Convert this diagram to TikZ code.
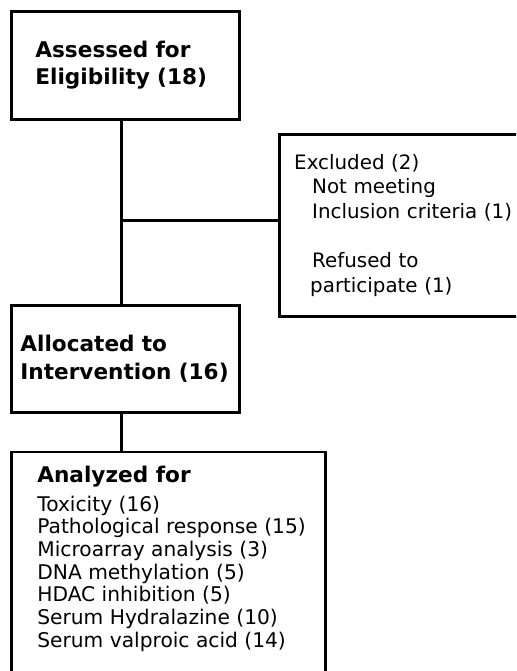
\documentclass[tikz,border=0pt]{standalone}
\usepackage{fontspec}
\setmainfont{DejaVu Sans}
\usetikzlibrary{positioning}

\begin{document}
\begin{tikzpicture}[align=left,cbox/.style={rectangle,draw=black,line width=1.6pt,inner ysep=0pt},
  ctitle/.style={font=\bfseries\fontsize{12.3}{15.5}\selectfont},
  clist/.style={font=\fontsize{11.3}{14}\selectfont},
  link/.style={line width=1.5pt}]
		\useasboundingbox (0,0) rectangle (10.32,-13.42);
		\clip (0,0) rectangle (10.32,-13.42);
		\node[cbox,ctitle,anchor=north west,minimum height=2.16cm,text width=3.6cm,inner xsep=0.48cm] (elig) at (0.2,-0.2){Assessed for\\Eligibility (18)};
		\node[cbox,ctitle,minimum height=2.14cm,text width=4.2cm,inner xsep=0.18cm] (alloc)[below=3.66cm of elig]{Allocated to\\Intervention (16)};
		\node[cbox,clist,minimum height=3.64cm,text width=5.1cm,inner xsep=0.3cm] (excl)[below right=0.24cm and 0.74cm of elig.south east]{Excluded (2)\\\hspace*{0.36cm}Not meeting\\\hspace*{0.36cm}Inclusion criteria (1)\\[14pt]\hspace*{0.36cm}Refused to\\\hspace*{0.32cm}participate (1)};
		\node[cbox,inner sep=0pt,minimum width=6.28cm,minimum height=6cm] (anz)[below right=0.74cm and 0cm of alloc.south west]{};
		\node[clist,anchor=north west,inner sep=0pt,font=\fontsize{11.5}{12.9}\selectfont] (antext) at ([xshift=0.54cm,yshift=-0.3cm]anz.north west){{\bfseries\fontsize{12.3}{12.9}\selectfont Analyzed for}\\[3.5pt]Toxicity (16)\\Pathological response (15)\\Microarray analysis (3)\\DNA methylation (5)\\HDAC inhibition (5)\\Serum Hydralazine (10)\\Serum valproic acid (14)};
		\coordinate (spine) at ([xshift=-0.08cm]elig.south);
		\coordinate (branch) at ([yshift=0.1cm]spine |- excl.west);
		\draw[link] (spine) -- (spine |- alloc.north);
		\draw[link] (spine |- alloc.south) -- (spine |- anz.north);
		\draw[link] (branch) -- (branch -| excl.west);
	\end{tikzpicture}
\end{document}
